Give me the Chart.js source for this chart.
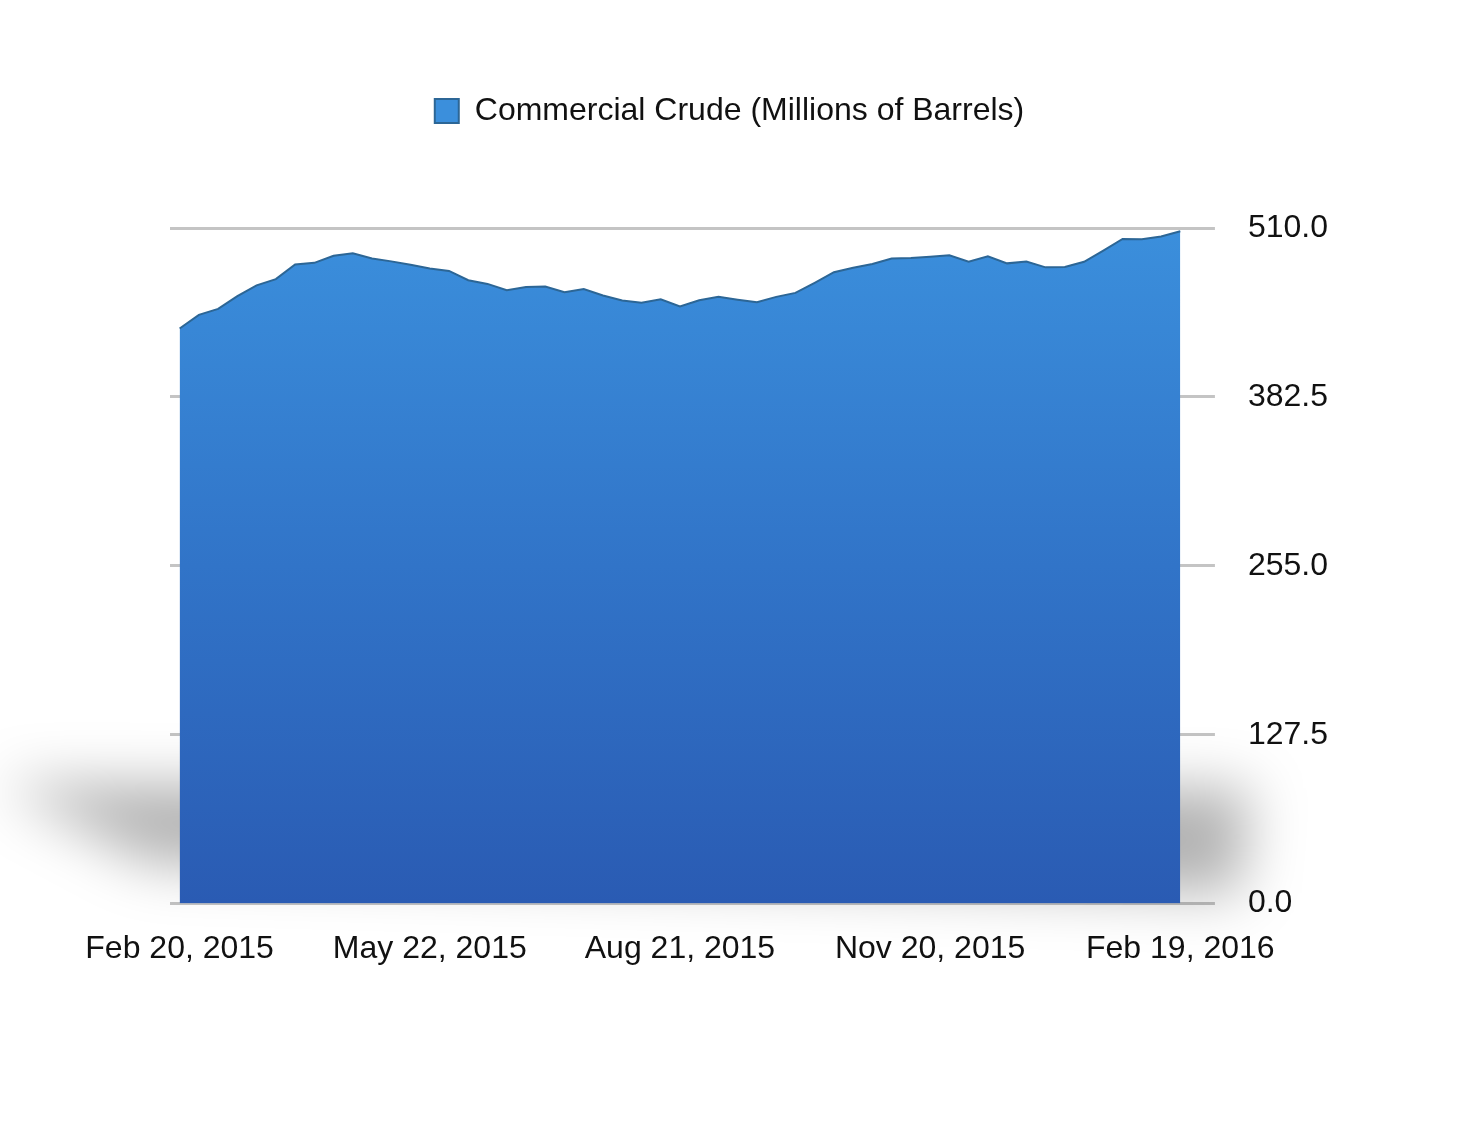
<!DOCTYPE html>
<html>
<head>
<meta charset="utf-8">
<title>Commercial Crude</title>
<script src="https://cdn.jsdelivr.net/npm/chart.js@4.4.1/dist/chart.umd.min.js"></script>
<style>
  html, body { margin: 0; padding: 0; background: #fff; }
  #wrap { width: 1479px; height: 1121px; }
</style>
</head>
<body>
<div id="wrap"><canvas id="crudeChart"></canvas></div>
<script>
// weekly dates, Feb 2015 - Feb 2016
const weeks = [
  "Feb 20, 2015", "Feb 27, 2015", "Mar 6, 2015", "Mar 13, 2015", "Mar 20, 2015", "Mar 27, 2015",
  "Apr 3, 2015", "Apr 10, 2015", "Apr 17, 2015", "Apr 24, 2015", "May 1, 2015", "May 8, 2015",
  "May 15, 2015", "May 22, 2015", "May 29, 2015", "Jun 5, 2015", "Jun 12, 2015", "Jun 19, 2015",
  "Jun 26, 2015", "Jul 3, 2015", "Jul 10, 2015", "Jul 17, 2015", "Jul 24, 2015", "Jul 31, 2015",
  "Aug 7, 2015", "Aug 14, 2015", "Aug 21, 2015", "Aug 28, 2015", "Sep 4, 2015", "Sep 11, 2015",
  "Sep 18, 2015", "Sep 25, 2015", "Oct 2, 2015", "Oct 9, 2015", "Oct 16, 2015", "Oct 23, 2015",
  "Oct 30, 2015", "Nov 6, 2015", "Nov 13, 2015", "Nov 20, 2015", "Nov 27, 2015", "Dec 4, 2015",
  "Dec 11, 2015", "Dec 18, 2015", "Dec 25, 2015", "Jan 1, 2016", "Jan 8, 2016", "Jan 15, 2016",
  "Jan 22, 2016", "Jan 29, 2016", "Feb 5, 2016", "Feb 12, 2016", "Feb 19, 2016"
];

// millions of barrels
const crude = [
  434.1, 444.4, 448.9, 458.5, 466.7, 471.4, 482.4, 483.7, 489.0, 490.9, 487.0, 484.8,
  482.2, 479.4, 477.6, 470.6, 467.8, 463.0, 465.4, 465.8, 461.5, 463.9, 459.1, 455.3,
  453.6, 456.2, 450.8, 455.4, 458.0, 455.9, 454.0, 458.0, 461.0, 468.6, 476.6, 480.0,
  482.8, 487.0, 487.3, 488.3, 489.4, 484.6, 488.6, 483.3, 484.7, 480.3, 480.6, 484.5,
  492.9, 501.7, 501.5, 503.6, 507.6
];

const yTicks = [0, 127.5, 255, 382.5, 510];
const labelEvery = 13;

Chart.defaults.font.family = '"Liberation Sans", Arial, sans-serif';

// extra room under the legend, and nudge it left like the original
const legendGap = {
  id: "legendGap",
  beforeInit(chart) {
    const fit = chart.legend.fit;
    chart.legend.fit = function () {
      fit.call(this);
      this.height += 91;
    };
  },
  afterLayout(chart) {
    chart.legend.left -= 36;
    chart.legend.right -= 36;
  }
};

// soft floor shadow under the area
const floorShadow = {
  id: "floorShadow",
  beforeDatasetsDraw(chart) {
    const { ctx, chartArea: a } = chart;
    ctx.save();
    ctx.filter = "blur(28px)";
    ctx.fillStyle = "rgba(0,0,0,0.3)";
    ctx.beginPath();
    ctx.moveTo(a.left - 170, a.bottom - 120);
    ctx.lineTo(a.right + 60, a.bottom - 115);
    ctx.lineTo(a.right + 50, a.bottom - 10);
    ctx.lineTo(a.left - 20, a.bottom - 40);
    ctx.closePath();
    ctx.fill();
    ctx.restore();
  }
};

function areaFill(context) {
  const { ctx, chartArea } = context.chart;
  if (!chartArea) return "#3a86d6";
  const g = ctx.createLinearGradient(0, chartArea.top, 0, chartArea.bottom);
  g.addColorStop(0, "#3b8fdc");
  g.addColorStop(0.5, "#3174c8");
  g.addColorStop(1, "#2a5bb3");
  return g;
}

new Chart(document.getElementById("crudeChart"), {
  type: "line",
  data: {
    labels: weeks,
    datasets: [
      {
        label: "Commercial Crude (Millions of Barrels)",
        data: crude,
        fill: "origin",
        backgroundColor: areaFill,
        borderColor: "#2c6696",
        borderWidth: 2,
        pointRadius: 0,
        tension: 0
      }
    ]
  },
  options: {
    responsive: true,
    maintainAspectRatio: false,
    animation: false,
    devicePixelRatio: 1,
    layout: { padding: { top: 85, left: 170, right: 118, bottom: 135 } },
    plugins: {
      legend: {
        labels: {
          boxWidth: 24,
          boxHeight: 24,
          padding: 10,
          color: "#111",
          font: { size: 32 }
        }
      },
      tooltip: { enabled: false }
    },
    scales: {
      x: {
        offset: true,
        grid: { display: false },
        border: { display: false },
        ticks: {
          autoSkip: false,
          maxRotation: 0,
          padding: 18,
          color: "#111",
          font: { size: 32 },
          callback: (v, i) => (i % labelEvery === 0 ? weeks[i] : null)
        }
      },
      y: {
        position: "right",
        min: 0,
        max: 510,
        afterBuildTicks: (s) => { s.ticks = yTicks.map((v) => ({ value: v })); },
        grid: { color: "#c4c4c4", lineWidth: 3, tickLength: 25 },
        border: { display: false },
        ticks: {
          padding: 33,
          color: "#111",
          font: { size: 32 },
          callback: (v) => Number(v).toFixed(1)
        }
      }
    }
  },
  plugins: [legendGap, floorShadow]
});
</script>
</body>
</html>
